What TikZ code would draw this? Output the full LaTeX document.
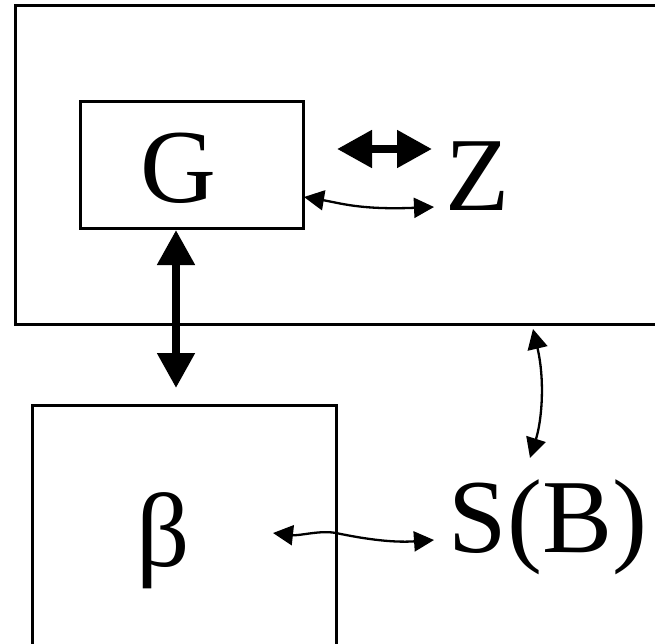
\documentclass[tikz,border=0pt]{standalone}
\usepackage{fontspec}
\setmainfont{Liberation Serif}
\usetikzlibrary{arrows.meta}
\begin{document}
\begin{tikzpicture}[x=1pt,y=-1pt,
  boxline/.style={draw=black,line width=3pt,fill=none,inner sep=0pt},
  bigtext/.style={font=\fontsize{105}{120}\selectfont,inner sep=0pt},
  thickarrow/.style={line width=8pt,{Triangle[length=35pt,width=36pt]}-{Triangle[length=35pt,width=36pt]}},
  thinarrow/.style={line width=2.3pt,{Triangle[length=20pt,width=20pt]}-{Triangle[length=20pt,width=20pt]}}]
\useasboundingbox (0,0) rectangle (655,643);
\clip (0,0) rectangle (655,643);
\fill[white] (0,0) rectangle (655,643);
% frames
\node[boxline,minimum width=684.5pt,minimum height=319pt] (env) at (357.75,164.5) {};
\node[boxline,minimum width=304pt,minimum height=300pt] (bbox) at (184,555) {};
\node[boxline,minimum width=223pt,minimum height=127pt] (gbox) at (191.5,164.5) {};
% texts
\node[bigtext,anchor=base] (G) at (178,202) {G};
\node[bigtext,anchor=base] (Z) at (478,210) {Z};
\node[bigtext,anchor=base] (SB) at (548,552) {S(B)};
\node[bigtext,anchor=base] (beta) at (163,566) {β};
% arrow end points
\coordinate (za) at (337,149);
\coordinate (zb) at (432,149);
\coordinate (ga) at (176,230);
\coordinate (gb) at (176,388);
\coordinate (gz1) at (304,197);
\coordinate (gz2) at (434,207);
\coordinate (sa) at (533,329);
\coordinate (sb) at (530,458);
\coordinate (ba) at (273,533);
\coordinate (bb) at (434,540);
% arrows
\draw[thickarrow] (za) -- (zb);
\draw[thickarrow] (ga) -- (gb);
\draw[thinarrow] (gz1) .. controls (340,203) and (360,210) .. (gz2);
\draw[thinarrow] (sa) .. controls (545,380) and (542,420) .. (sb);
\draw[thinarrow] (ba) .. controls (300,536) and (320,530) .. (336,533) .. controls (360,538) and (390,543) .. (bb);
\end{tikzpicture}
\end{document}
